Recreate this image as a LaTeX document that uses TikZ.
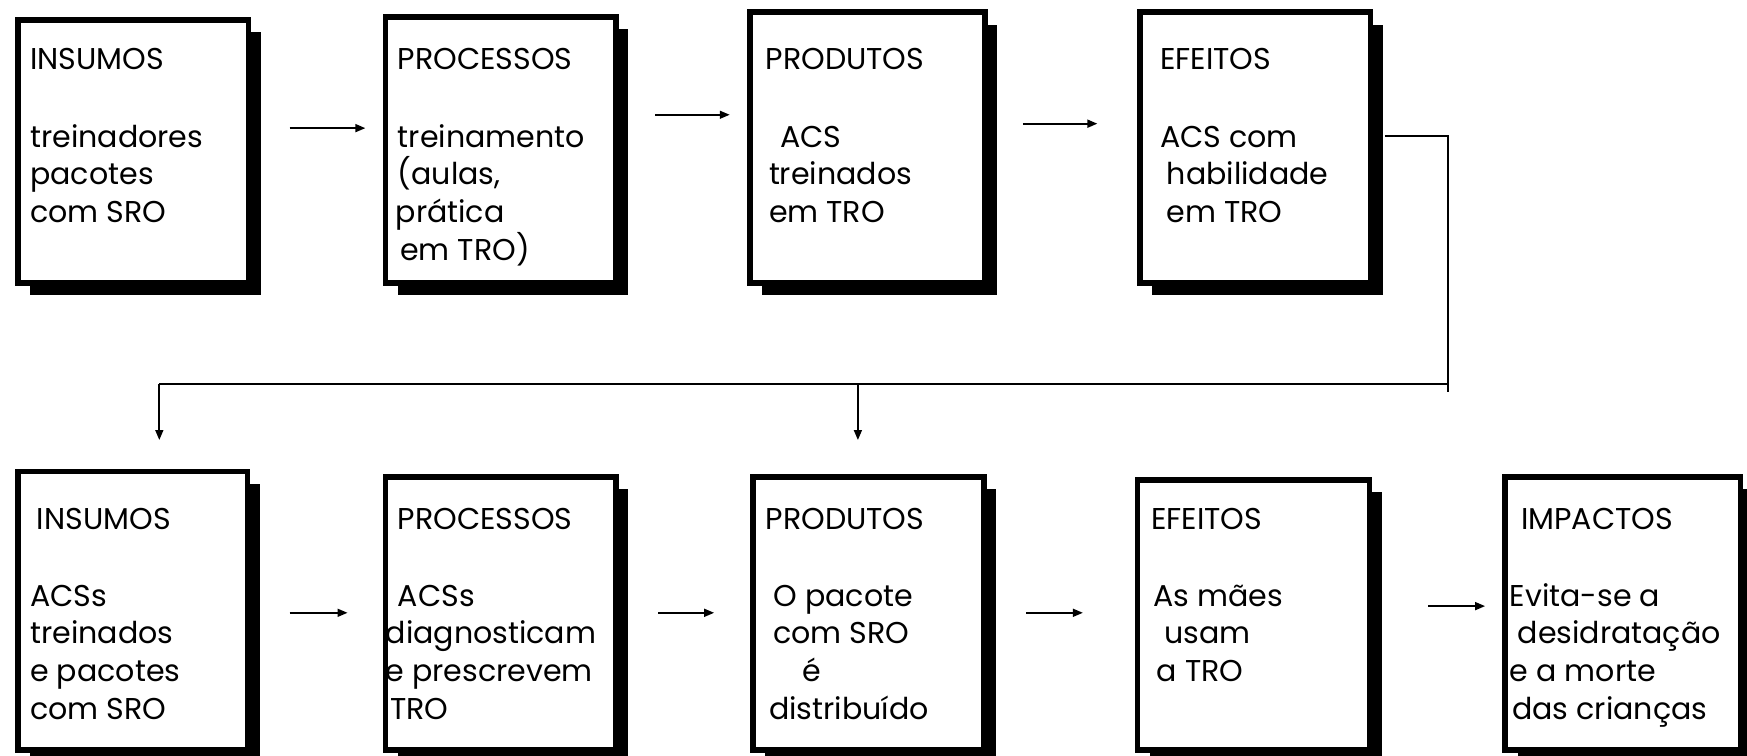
\documentclass[tikz,border=0pt]{standalone}
\usepackage{fontspec}
\setmainfont{Poppins}
\usetikzlibrary{shadows,arrows.meta}
\begin{document}
\begin{tikzpicture}[x=1pt,y=-1pt,
  stage/.style={draw,line width=5pt,fill=white,inner sep=0pt,outer sep=0pt,
    drop shadow={shadow xshift=11pt,shadow yshift=-11pt,fill=black,opacity=1}},
  txt/.style={anchor=base west,inner sep=0pt,font=\fontsize{27}{32}\selectfont},
  con/.style={line width=1.8pt},
  arr/.style={line width=1.8pt,-{Triangle[length=9pt,width=7pt]}}]
\useasboundingbox (0,0) rectangle (1568,678.5);
% boxes
\node[stage,minimum width=207pt,minimum height=236pt] (b1) at (119.5,136) {};
\node[stage,minimum width=207pt,minimum height=239pt] (b2) at (449.5,134.5) {};
\node[stage,minimum width=211pt,minimum height=243pt] (b3) at (778.5,132.5) {};
\node[stage,minimum width=207pt,minimum height=243pt] (b4) at (1126.5,132.5) {};
\node[stage,minimum width=206pt,minimum height=250pt] (b5) at (119,548) {};
\node[stage,minimum width=207pt,minimum height=245pt] (b6) at (449.5,550.5) {};
\node[stage,minimum width=207pt,minimum height=245pt] (b7) at (779.5,550.5) {};
\node[stage,minimum width=208pt,minimum height=242pt] (b8) at (1125,552) {};
\node[stage,minimum width=211pt,minimum height=245pt] (b9) at (1456.5,550.5) {};
% texts box 1
\node[txt] (t1a) at (27,62) {INSUMOS};
\node[txt] (t1b) at (27,132) {treinadores};
\node[txt] (t1c) at (27,166) {pacotes};
\node[txt] (t1d) at (27,200) {com SRO};
% box 2
\node[txt] (t2a) at (357,62) {PROCESSOS};
\node[txt] (t2b) at (357,132) {treinamento};
\node[txt] (t2c) at (357,166) {(aulas,};
\node[txt] (t2d) at (355,200) {prática};
\node[txt] (t2e) at (359,234) {em TRO)};
% box 3
\node[txt] (t3a) at (687,62) {PRODUTOS};
\node[txt] (t3b) at (700,132) {ACS};
\node[txt] (t3c) at (690,166) {treinados};
\node[txt] (t3d) at (690,200) {em TRO};
% box 4
\node[txt] (t4a) at (1041,62) {EFEITOS};
\node[txt] (t4b) at (1041,132) {ACS com};
\node[txt] (t4c) at (1047,166) {habilidade};
\node[txt] (t4d) at (1047,200) {em TRO};
% box 5
\node[txt] (t5a) at (33,475) {INSUMOS};
\node[txt] (t5b) at (27,544) {ACSs};
\node[txt] (t5c) at (27,578) {treinados};
\node[txt] (t5d) at (27,612) {e pacotes};
\node[txt] (t5e) at (27,646) {com SRO};
% box 6
\node[txt] (t6a) at (357,475) {PROCESSOS};
\node[txt] (t6b) at (357,544) {ACSs};
\node[txt] (t6c) at (346,578) {diagnosticam};
\node[txt] (t6d) at (346,612) {e prescrevem};
\node[txt] (t6e) at (350,646) {TRO};
% box 7
\node[txt] (t7a) at (687,475) {PRODUTOS};
\node[txt] (t7b) at (694,544) {O pacote};
\node[txt] (t7c) at (694,578) {com SRO};
\node[txt] (t7d) at (720,612) {é};
\node[txt] (t7e) at (690,646) {distribuído};
% box 8
\node[txt] (t8a) at (1033,475) {EFEITOS};
\node[txt] (t8b) at (1035,544) {As mães};
\node[txt] (t8c) at (1045,578) {usam};
\node[txt] (t8d) at (1038,612) {a TRO};
% box 9
\node[txt] (t9a) at (1365,475) {IMPACTOS};
\node[txt] (t9b) at (1355,544) {Evita-se a};
\node[txt] (t9c) at (1362,578) {desidratação};
\node[txt] (t9d) at (1355,612) {e a morte};
\node[txt] (t9e) at (1357,646) {das crianças};
% arrow end points
\coordinate (a1s) at (260,115); \coordinate (a1e) at (328,115);
\coordinate (a2s) at (588,103); \coordinate (a2e) at (655,103);
\coordinate (a3s) at (918,111); \coordinate (a3e) at (985,111);
\coordinate (a5s) at (260,550); \coordinate (a5e) at (312,550);
\coordinate (a6s) at (591,550); \coordinate (a6e) at (641,550);
\coordinate (a7s) at (921,550); \coordinate (a7e) at (972,550);
\coordinate (a8s) at (1282,544); \coordinate (a8e) at (1333,544);
\draw[arr] (a1s) -- (a1e);
\draw[arr] (a2s) -- (a2e);
\draw[arr] (a3s) -- (a3e);
\draw[arr] (a5s) -- (a5e);
\draw[arr] (a6s) -- (a6e);
\draw[arr] (a7s) -- (a7e);
\draw[arr] (a8s) -- (a8e);
% feedback connector
\coordinate (j0) at (1243,122);
\coordinate (j1) at (1300,122);
\coordinate (j2) at (1300,352);
\coordinate (j3) at (1300,345);
\coordinate (j4) at (143,345);
\coordinate (j5) at (143,395);
\coordinate (j6) at (770,345);
\coordinate (j7) at (770,395);
\draw[con] (j0) -- (j1) -- (j2);
\draw[con] (j3) -- (j4);
\draw[arr] (j4) -- (j5);
\draw[arr] (j6) -- (j7);
\end{tikzpicture}
\end{document}
